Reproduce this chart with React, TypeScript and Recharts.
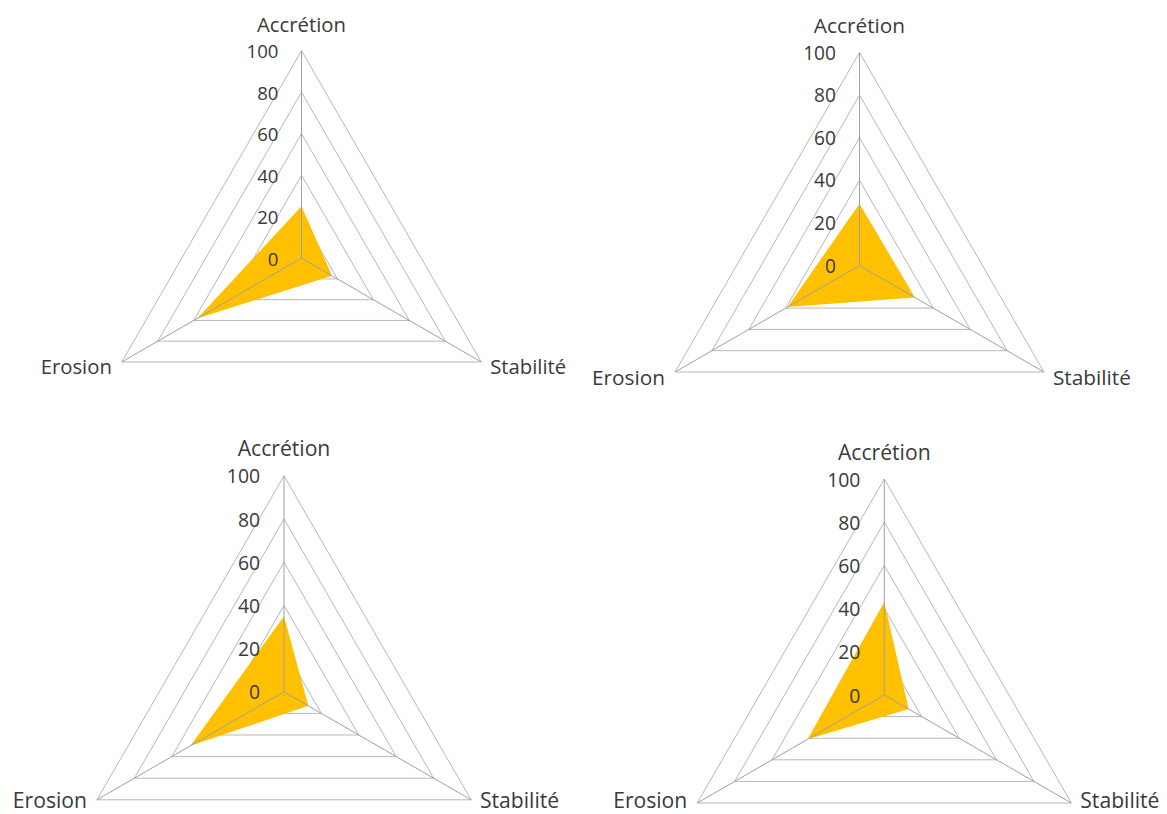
import React from 'react';
import { RadarChart, Radar, PolarGrid, PolarAngleAxis, PolarRadiusAxis } from 'recharts';

// ---------- data ----------
const categories = ['Accrétion', 'Stabilité', 'Erosion'];
const chart1Values = [25, 17, 58];
const chart2Values = [29, 30, 39];
const chart3Values = [35, 13, 50];
const chart4Values = [43, 13, 41];
const radiusTicks = [0, 20, 40, 60, 80, 100];

const seriesList = [chart1Values, chart2Values, chart3Values, chart4Values];

// ---------- layout / style ----------
const layouts = [
  { left: 0, top: 0, width: 583, height: 407, cx: 301.5, cy: 258.2, r: 207.5, dy: 8 },
  { left: 583, top: 0, width: 584, height: 407, cx: 276.5, cy: 265.5, r: 213, dy: 9 },
  { left: 0, top: 407, width: 583, height: 407, cx: 284, cy: 284.8, r: 216, dy: 4 },
  { left: 583, top: 407, width: 584, height: 407, cx: 301.3, cy: 288, r: 216, dy: 1 },
];

const FONT = "'Open Sans', 'Noto Sans', sans-serif";
const TEXT = '#3a3a3a';
const GRID = '#b8b8b8';
const SPOKE = '#a0a0a0';
const FILL = '#FFC000';

function makeAngleTick(scale: number, dy: number) {
  return (props: any) => {
    const { x, y, payload } = props;
    const v = payload.value as string;
    const fs = 20.3 * scale;
    // tick props sit 8px beyond the outer vertex
    if (v === categories[0]) {
      return (
        <text x={x} y={y - 11 * scale} textAnchor="middle" fontFamily={FONT} fontSize={fs} fill={TEXT}>
          {v}
        </text>
      );
    }
    if (v === categories[1]) {
      return (
        <text x={x + 2} y={y + dy} textAnchor="start" fontFamily={FONT} fontSize={fs} fill={TEXT}>
          {v}
        </text>
      );
    }
    return (
      <text x={x - 3} y={y + dy} textAnchor="end" fontFamily={FONT} fontSize={fs} fill={TEXT}>
        {v}
      </text>
    );
  };
}

function makeRadiusTick(scale: number) {
  return (props: any) => {
    const { x, y, payload } = props;
    return (
      <text
        x={x - 23 * scale}
        y={y}
        textAnchor="end"
        dominantBaseline="central"
        fontFamily={FONT}
        fontSize={18.6 * scale}
        fill={TEXT}
      >
        {payload.value}
      </text>
    );
  };
}

type Layout = (typeof layouts)[number];

function OneRadar({ values, layout }: { values: number[]; layout: Layout }) {
  const data = categories.map((c, i) => ({ axis: c, value: values[i] }));
  const scale = layout.r / 207.5;
  const common = {
    width: layout.width,
    height: layout.height,
    data,
    cx: layout.cx,
    cy: layout.cy,
    outerRadius: layout.r,
    margin: { top: 0, right: 0, bottom: 0, left: 0 },
  };
  return (
    <div style={{ position: 'absolute', left: layout.left, top: layout.top, width: layout.width, height: layout.height }}>
      {/* base: grid polygons, labels, filled series, value ticks */}
      <div style={{ position: 'absolute', left: 0, top: 0 }}>
        <RadarChart {...common}>
          <PolarGrid gridType="polygon" radialLines={false} stroke={GRID} strokeWidth={1} />
          <PolarAngleAxis dataKey="axis" tick={makeAngleTick(scale, layout.dy)} tickLine={false} axisLine={false} />
          <Radar dataKey="value" fill={FILL} fillOpacity={1} stroke="none" isAnimationActive={false} />
          <PolarRadiusAxis
            angle={90}
            domain={[0, 100]}
            ticks={radiusTicks as any}
            tickCount={radiusTicks.length}
            axisLine={false}
            tick={makeRadiusTick(scale)}
          />
        </RadarChart>
      </div>
      {/* overlay: spokes drawn above the fill */}
      <div style={{ position: 'absolute', left: 0, top: 0, pointerEvents: 'none' }}>
        <RadarChart {...common}>
          <PolarGrid gridType="polygon" polarRadius={[]} stroke={SPOKE} strokeWidth={1} />
          <PolarAngleAxis dataKey="axis" tick={false} tickLine={false} axisLine={false} />
          <PolarRadiusAxis angle={90} domain={[0, 100]} tickCount={radiusTicks.length} axisLine={false} tick={false} />
        </RadarChart>
      </div>
    </div>
  );
}

export default function App() {
  return (
    <div style={{ position: 'absolute', left: 0, top: 0, width: 1167, height: 814, background: '#ffffff', overflow: 'hidden' }}>
      {seriesList.map((vals, i) => (
        <OneRadar key={i} values={vals} layout={layouts[i]} />
      ))}
    </div>
  );
}
